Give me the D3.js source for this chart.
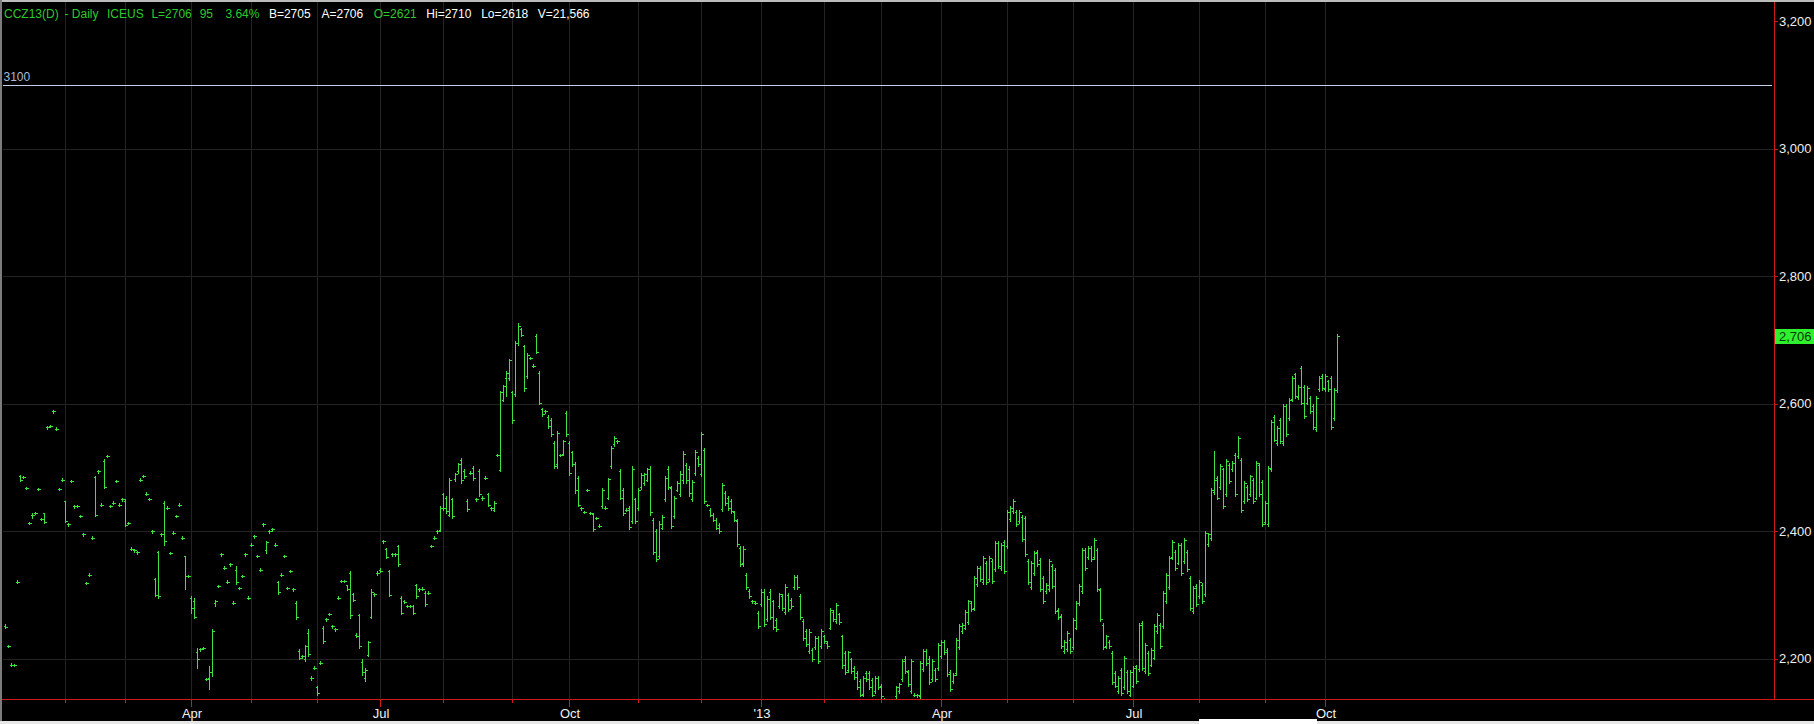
<!DOCTYPE html>
<html>
<head>
<meta charset="utf-8">
<script src="https://cdn.jsdelivr.net/npm/d3@7/dist/d3.min.js"></script>
<style>
  html, body { margin: 0; padding: 0; background: #000; overflow: hidden; }
  svg { display: block; }
  text { font-family: "Liberation Sans", Arial, sans-serif; }
</style>
</head>
<body>
<script>
// ---------------- DATA ----------------
const highs = [
2255,2222,2193,2192,2323,2489,2487,2470,2415,2429,
2431,2468,2421,2428,2565,2567,2590,2563,2468,2483,
2447,2413,2481,2441,2442,2426,2397,2321,2334,2392,
2487,2496,2444,2513,2520,2442,2447,2481,2444,2452,
2450,2415,2375,2372,2369,2483,2489,2461,2453,2402,
2327,2369,2397,2447,2439,2368,2400,2426,2444,2392,
2361,2332,2298,2296,2217,2217,2219,2170,2188,2246,
2293,2316,2366,2345,2323,2350,2290,2345,2313,2332,
2366,2298,2381,2394,2363,2342,2413,2385,2402,2405,
2381,2322,2334,2363,2313,2340,2311,2290,2215,2206,
2222,2246,2173,2188,2157,2196,2251,2264,2272,2253,
2248,2298,2324,2324,2316,2338,2304,2240,2270,2199,
2186,2228,2309,2303,2337,2342,2387,2374,2340,2366,
2366,2379,2298,2292,2285,2285,2285,2317,2311,2312,
2306,2306,2379,2392,2402,2439,2460,2455,2484,2453,
2492,2507,2515,2497,2450,2494,2502,2452,2497,2455,
2486,2460,2438,2447,2522,2620,2630,2651,2670,2620,
2698,2726,2719,2693,2680,2674,2662,2709,2651,2594,
2590,2583,2578,2541,2557,2522,2544,2588,2541,2526,
2509,2486,2438,2432,2467,2431,2429,2423,2411,2468,
2439,2484,2534,2549,2543,2497,2468,2436,2439,2502,
2453,2468,2492,2492,2500,2502,2421,2403,2416,2426,
2487,2502,2471,2455,2479,2494,2526,2507,2502,2481,
2528,2518,2556,2531,2443,2436,2428,2421,2413,2476,
2463,2455,2450,2432,2419,2377,2377,2335,2309,2292,
2290,2275,2309,2309,2298,2309,2293,2264,2304,2301,
2317,2304,2296,2332,2332,2301,2262,2246,2246,2217,
2235,2235,2246,2238,2228,2280,2277,2288,2272,2238,
2212,2213,2202,2188,2181,2168,2173,2181,2181,2170,
2173,2173,2160,2138,2128,2130,2136,2157,2162,2199,
2204,2183,2199,2146,2145,2196,2215,2215,2204,2199,
2186,2225,2230,2230,2217,2183,2178,2233,2254,2256,
2277,2293,2290,2330,2345,2345,2361,2353,2361,2356,
2385,2385,2382,2387,2434,2439,2450,2434,2434,2426,
2424,2356,2353,2369,2371,2358,2330,2319,2356,2348,
2343,2280,2270,2230,2243,2233,2264,2290,2317,2374,
2374,2377,2377,2390,2374,2311,2256,2238,2230,2212,
2181,2173,2186,2204,2183,2183,2188,2191,2256,2259,
2225,2212,2217,2254,2272,2256,2306,2335,2361,2387,
2371,2382,2382,2390,2371,2330,2314,2317,2324,2319,
2400,2398,2468,2526,2486,2505,2500,2513,2507,2510,
2523,2549,2515,2479,2473,2489,2484,2510,2507,2481,
2447,2502,2575,2583,2565,2578,2599,2599,2609,2643,
2649,2630,2659,2630,2628,2612,2599,2612,2643,2646,
2646,2638,2643,2625,2710
];
const lows = [
2248,2218,2189,2188,2319,2479,2483,2466,2411,2421,
2427,2464,2417,2413,2561,2563,2586,2559,2464,2479,
2414,2409,2477,2437,2438,2422,2393,2317,2330,2388,
2424,2492,2440,2468,2516,2438,2443,2477,2440,2448,
2408,2411,2371,2368,2365,2479,2485,2457,2449,2398,
2298,2296,2393,2379,2435,2364,2396,2422,2440,2388,
2309,2328,2272,2264,2186,2212,2215,2166,2152,2173,
2283,2312,2362,2341,2319,2346,2286,2317,2309,2328,
2362,2294,2377,2390,2359,2338,2409,2366,2397,2401,
2377,2301,2330,2359,2309,2336,2307,2262,2199,2202,
2196,2204,2166,2184,2144,2192,2225,2260,2268,2249,
2244,2294,2320,2320,2308,2264,2290,2234,2217,2175,
2165,2204,2264,2299,2332,2336,2382,2358,2298,2362,
2362,2345,2270,2287,2281,2281,2270,2296,2307,2308,
2283,2302,2375,2388,2398,2400,2434,2429,2424,2421,
2479,2492,2476,2484,2432,2490,2481,2448,2455,2449,
2482,2440,2434,2432,2518,2494,2604,2612,2638,2570,
2612,2693,2706,2620,2641,2670,2657,2680,2599,2581,
2586,2562,2549,2500,2500,2518,2520,2549,2489,2502,
2460,2439,2434,2428,2463,2427,2400,2419,2407,2437,
2435,2450,2500,2534,2539,2450,2426,2432,2403,2413,
2413,2434,2466,2473,2479,2426,2364,2353,2358,2403,
2447,2466,2405,2421,2463,2455,2476,2476,2455,2447,
2489,2502,2486,2445,2439,2424,2416,2403,2398,2432,
2442,2434,2429,2416,2377,2345,2345,2309,2296,2288,
2286,2249,2283,2251,2259,2262,2246,2243,2280,2277,
2270,2275,2280,2309,2309,2262,2230,2220,2209,2196,
2215,2194,2217,2225,2217,2246,2259,2256,2254,2185,
2176,2180,2178,2168,2152,2141,2141,2165,2152,2141,
2147,2152,2139,2110,2100,2102,2110,2139,2147,2165,
2178,2157,2147,2141,2140,2139,2181,2191,2160,2165,
2165,2183,2202,2207,2173,2149,2162,2175,2215,2241,
2246,2254,2275,2277,2314,2322,2317,2317,2322,2319,
2338,2343,2340,2335,2374,2416,2429,2408,2413,2385,
2361,2317,2309,2332,2345,2306,2288,2304,2306,2311,
2272,2262,2217,2209,2212,2209,2215,2246,2285,2304,
2340,2356,2353,2356,2306,2259,2215,2217,2217,2160,
2155,2147,2144,2152,2147,2141,2155,2162,2181,2183,
2178,2175,2188,2199,2241,2217,2249,2288,2309,2356,
2340,2348,2332,2351,2338,2277,2272,2283,2296,2288,
2298,2377,2387,2458,2450,2466,2437,2455,2476,2494,
2455,2515,2431,2445,2447,2455,2445,2450,2455,2408,
2411,2408,2494,2541,2536,2539,2536,2549,2575,2604,
2609,2607,2599,2578,2599,2586,2560,2557,2620,2622,
2620,2620,2560,2575,2618
];
const opens = [
2252,2220,2191,2190,2321,2487,2485,2468,2413,2425,
2429,2466,2419,2428,2563,2565,2588,2561,2466,2481,
2447,2411,2479,2439,2440,2424,2395,2319,2332,2390,
2485,2494,2442,2511,2518,2440,2445,2479,2442,2450,
2448,2413,2373,2370,2367,2481,2487,2459,2451,2400,
2325,2367,2395,2445,2437,2366,2398,2424,2442,2390,
2361,2330,2296,2290,2210,2215,2217,2168,2170,2180,
2288,2314,2364,2343,2321,2348,2288,2340,2311,2330,
2364,2296,2379,2392,2361,2340,2411,2370,2400,2403,
2379,2320,2332,2361,2311,2338,2309,2288,2213,2204,
2200,2240,2170,2186,2155,2194,2249,2262,2270,2251,
2246,2296,2322,2322,2315,2335,2302,2238,2268,2195,
2170,2206,2266,2301,2335,2340,2385,2372,2338,2364,
2364,2377,2296,2290,2283,2283,2283,2315,2309,2310,
2304,2304,2377,2390,2400,2402,2458,2453,2426,2450,
2482,2494,2512,2495,2448,2492,2500,2450,2495,2452,
2484,2458,2436,2434,2520,2496,2606,2640,2640,2618,
2615,2695,2717,2690,2643,2672,2660,2706,2649,2592,
2588,2580,2575,2539,2505,2520,2522,2585,2538,2524,
2506,2483,2436,2430,2465,2429,2427,2421,2409,2440,
2437,2453,2503,2537,2541,2494,2465,2434,2436,2416,
2450,2437,2469,2475,2481,2498,2418,2400,2361,2405,
2450,2498,2468,2424,2465,2458,2480,2504,2498,2450,
2492,2515,2490,2528,2441,2434,2426,2418,2410,2435,
2460,2452,2447,2430,2416,2374,2350,2332,2306,2290,
2288,2272,2286,2305,2262,2305,2290,2261,2283,2298,
2273,2300,2293,2312,2329,2298,2259,2243,2212,2214,
2218,2232,2220,2235,2225,2249,2274,2260,2270,2235,
2209,2183,2199,2185,2178,2165,2145,2178,2178,2167,
2150,2170,2157,2135,2120,2105,2115,2142,2150,2168,
2200,2180,2150,2144,2143,2142,2184,2212,2200,2168,
2183,2186,2205,2227,2214,2180,2165,2178,2218,2244,
2249,2257,2287,2280,2317,2342,2320,2350,2325,2353,
2341,2382,2343,2384,2377,2419,2432,2431,2416,2423,
2421,2353,2312,2335,2368,2355,2327,2307,2309,2345,
2340,2277,2267,2212,2215,2230,2218,2249,2288,2307,
2371,2359,2374,2359,2371,2308,2253,2220,2227,2209,
2178,2150,2183,2155,2180,2144,2158,2188,2184,2256,
2181,2209,2191,2202,2244,2253,2252,2291,2312,2359,
2368,2351,2379,2354,2368,2327,2275,2314,2299,2316,
2301,2380,2390,2461,2483,2469,2497,2458,2504,2497,
2520,2518,2512,2448,2470,2458,2481,2453,2504,2478,
2414,2411,2497,2580,2539,2575,2539,2596,2578,2607,
2646,2610,2656,2627,2602,2609,2596,2560,2623,2643,
2623,2635,2640,2578,2621
];
const closes = [
2250,2220,2191,2190,2321,2480,2485,2468,2413,2425,
2429,2466,2419,2415,2563,2565,2588,2561,2466,2481,
2416,2411,2479,2439,2440,2424,2395,2319,2332,2390,
2426,2494,2442,2470,2518,2440,2445,2479,2442,2450,
2410,2413,2373,2370,2367,2481,2487,2459,2451,2400,
2300,2298,2395,2385,2437,2366,2398,2424,2442,2390,
2330,2330,2280,2266,2200,2215,2217,2168,2180,2244,
2290,2314,2364,2343,2321,2348,2288,2320,2311,2330,
2364,2296,2379,2392,2361,2340,2411,2384,2400,2403,
2379,2305,2332,2361,2311,2338,2309,2265,2202,2204,
2220,2208,2170,2186,2147,2194,2228,2262,2270,2251,
2246,2296,2322,2322,2310,2268,2292,2236,2220,2180,
2182,2226,2305,2301,2335,2338,2385,2360,2300,2364,
2364,2348,2272,2289,2283,2283,2272,2298,2309,2310,
2286,2304,2377,2390,2400,2436,2436,2432,2480,2424,
2490,2505,2480,2486,2435,2492,2484,2450,2458,2452,
2484,2442,2436,2445,2520,2618,2628,2648,2668,2575,
2695,2722,2708,2625,2676,2672,2659,2682,2602,2584,
2588,2565,2552,2503,2554,2520,2542,2552,2492,2505,
2464,2442,2436,2430,2465,2429,2403,2421,2409,2465,
2437,2482,2531,2546,2541,2453,2429,2434,2406,2498,
2416,2465,2489,2490,2497,2430,2368,2356,2412,2423,
2484,2470,2409,2452,2476,2490,2522,2480,2460,2478,
2524,2505,2552,2448,2441,2426,2418,2405,2400,2472,
2445,2437,2432,2418,2380,2348,2372,2312,2298,2290,
2288,2252,2305,2255,2294,2266,2250,2246,2301,2280,
2313,2278,2283,2329,2312,2265,2233,2223,2242,2199,
2232,2197,2243,2228,2220,2277,2262,2285,2257,2190,
2180,2210,2181,2171,2155,2144,2170,2168,2155,2144,
2170,2155,2142,2115,2105,2125,2132,2155,2160,2196,
2181,2160,2196,2144,2143,2193,2212,2194,2163,2196,
2168,2222,2227,2210,2176,2152,2175,2230,2251,2253,
2274,2290,2278,2327,2342,2325,2358,2320,2358,2322,
2382,2346,2379,2338,2431,2436,2447,2411,2431,2388,
2364,2320,2350,2366,2348,2309,2291,2316,2353,2314,
2275,2265,2220,2227,2240,2212,2261,2287,2314,2371,
2343,2374,2356,2387,2309,2262,2218,2235,2220,2163,
2158,2170,2147,2201,2150,2180,2185,2165,2253,2186,
2222,2178,2214,2251,2269,2220,2303,2332,2358,2384,
2343,2379,2335,2387,2341,2280,2311,2286,2321,2291,
2397,2395,2465,2480,2453,2502,2440,2510,2479,2507,
2458,2546,2434,2476,2450,2486,2448,2507,2458,2411,
2444,2499,2572,2544,2562,2542,2596,2552,2606,2640,
2612,2627,2602,2581,2625,2589,2563,2609,2640,2625,
2643,2623,2563,2622,2706
];
// bar index of the first trading day of each month (Feb 2012 .. Oct 2013)
const monthStarts = [20,40,62,82,104,125,146,169,188,211,232,252,273,292,312,334,356,376,398,420,440];
const monthLabels = ["","","Apr","","","Jul","","","Oct","","","'13","","","Apr","","","Jul","","","Oct"];
const priceTicks = [2200,2400,2600,2800,3000,3200];
const gridPrices = [2200,2400,2600,2800,3000];
const refLevel = 3100;
const lastPrice = 2706;
const headerParts = [
  {t:"CCZ13(D)", c:"g"}, {t:"- Daily", c:"g"}, {t:"ICEUS", c:"g"}, {t:"L=2706", c:"g"},
  {t:"95", c:"g"}, {t:"3.64%", c:"g"}, {t:"B=2705", c:"w"}, {t:"A=2706", c:"w"},
  {t:"O=2621", c:"g"}, {t:"Hi=2710", c:"w"}, {t:"Lo=2618", c:"w"}, {t:"V=21,566", c:"w"}
];

// ---------------- LAYOUT ----------------
const W = 1814, H = 724;
const axisX = 1774, axisY = 699;
const headerX = [4, 64.5, 107, 151.4, 199.7, 225.4, 268.9, 321.5, 373.7, 426.3, 481.2, 537.8];

const svg = d3.select("body").append("svg").attr("width", W).attr("height", H);
svg.append("rect").attr("width", W).attr("height", H).attr("fill", "#000");

const x = d3.scaleLinear().domain([0, 444]).range([5, 1337]);
const y = d3.scaleLinear().domain([2200, 3200]).range([658.8, 21.3]);

// clip
svg.append("defs").append("clipPath").attr("id", "plot")
  .append("rect").attr("x", 3).attr("y", 2).attr("width", axisX - 3).attr("height", axisY - 2);

// grid
const gridColor = "#232323";
const grid = svg.append("g");
grid.selectAll("line.h").data(gridPrices).join("line")
  .attr("x1", 3).attr("x2", axisX)
  .attr("y1", d => Math.round(y(d)) + 0.5).attr("y2", d => Math.round(y(d)) + 0.5)
  .attr("stroke", gridColor).attr("stroke-width", 1);
grid.selectAll("line.v").data(monthStarts).join("line")
  .attr("x1", d => Math.round(x(d)) + 0.5).attr("x2", d => Math.round(x(d)) + 0.5)
  .attr("y1", 2).attr("y2", axisY)
  .attr("stroke", gridColor).attr("stroke-width", 1);

// reference line 3100
svg.append("line").attr("x1", 3).attr("x2", 1772)
  .attr("y1", Math.round(y(refLevel)) + 0.5).attr("y2", Math.round(y(refLevel)) + 0.5)
  .attr("stroke", "#c4d0e6").attr("stroke-width", 1);
svg.append("text").attr("x", 3.5).attr("y", y(refLevel) - 4)
  .attr("font-size", 12).attr("fill", "#a9bdd6").text(String(refLevel));

// bars
const idx = d3.range(highs.length);
const barColor = "#3ee23e";
const bars = svg.append("g").attr("clip-path", "url(#plot)");
bars.selectAll("rect.hl").data(idx).join("rect")
  .attr("x", i => Math.round(x(i)))
  .attr("y", i => Math.round(y(highs[i])))
  .attr("width", 1)
  .attr("height", i => Math.max(1, Math.round(y(lows[i])) - Math.round(y(highs[i])) + 1))
  .attr("fill", barColor);
bars.selectAll("rect.op").data(idx).join("rect")
  .attr("x", i => Math.round(x(i)) - 1)
  .attr("y", i => Math.round(y(opens[i])))
  .attr("width", 1).attr("height", 1).attr("fill", barColor);
bars.selectAll("rect.cl").data(idx).join("rect")
  .attr("x", i => Math.round(x(i)) + 1)
  .attr("y", i => Math.round(y(closes[i])))
  .attr("width", 2).attr("height", 1).attr("fill", barColor);

// right axis
svg.append("line").attr("x1", axisX + 0.5).attr("x2", axisX + 0.5).attr("y1", 2).attr("y2", axisY + 1)
  .attr("stroke", "#d01818").attr("stroke-width", 1);
const fmt = d3.format(",");
const ya = svg.append("g");
ya.selectAll("line").data(priceTicks).join("line")
  .attr("x1", axisX).attr("x2", axisX + 4)
  .attr("y1", d => Math.round(y(d)) + 0.5).attr("y2", d => Math.round(y(d)) + 0.5)
  .attr("stroke", "#d01818");
ya.selectAll("text").data(priceTicks).join("text")
  .attr("x", axisX + 5).attr("y", d => y(d)).attr("dy", "0.36em")
  .attr("font-size", 13).attr("fill", "#eeeeee").text(d => fmt(d));

// last price tag
svg.append("rect").attr("x", axisX + 1).attr("y", Math.round(y(lastPrice)) - 7)
  .attr("width", W - axisX - 1).attr("height", 15).attr("fill", "#2ff02f");
svg.append("text").attr("x", axisX + 5).attr("y", y(lastPrice)).attr("dy", "0.36em")
  .attr("font-size", 13).attr("fill", "#0a3a0a").text(fmt(lastPrice));

// bottom axis
svg.append("line").attr("x1", 0).attr("x2", W).attr("y1", axisY + 0.5).attr("y2", axisY + 0.5)
  .attr("stroke", "#d01818").attr("stroke-width", 1.2);
const xa = svg.append("g");
xa.selectAll("line").data(monthStarts).join("line")
  .attr("x1", d => Math.round(x(d)) + 0.5).attr("x2", d => Math.round(x(d)) + 0.5)
  .attr("y1", axisY).attr("y2", (d, i) => monthLabels[i] ? axisY + 8 : axisY + 4)
  .attr("stroke", "#d01818");
xa.selectAll("text").data(monthStarts).join("text")
  .attr("x", d => x(d) + 1).attr("y", 717.5).attr("text-anchor", "middle")
  .attr("font-size", 13).attr("fill", "#f2f2f2").text((d, i) => monthLabels[i]);

// frame
svg.append("rect").attr("x", 0).attr("y", 0).attr("width", W).attr("height", 2).attr("fill", "#bdbdbd");
svg.append("rect").attr("x", 0).attr("y", 0).attr("width", 2).attr("height", H).attr("fill", "#7c7c7c");
svg.append("rect").attr("x", 0).attr("y", 721).attr("width", W).attr("height", 3).attr("fill", "#e6e6e6");
svg.append("rect").attr("x", 1199).attr("y", 719).attr("width", 118).attr("height", 5).attr("fill", "#ffffff");

// header
const hdr = svg.append("text").attr("y", 18).attr("font-size", 12);
hdr.selectAll("tspan").data(headerParts).join("tspan")
  .attr("x", (d, i) => headerX[i])
  .attr("fill", d => d.c === "g" ? "#2dca2d" : "#ffffff")
  .text(d => d.t);
</script>
</body>
</html>
